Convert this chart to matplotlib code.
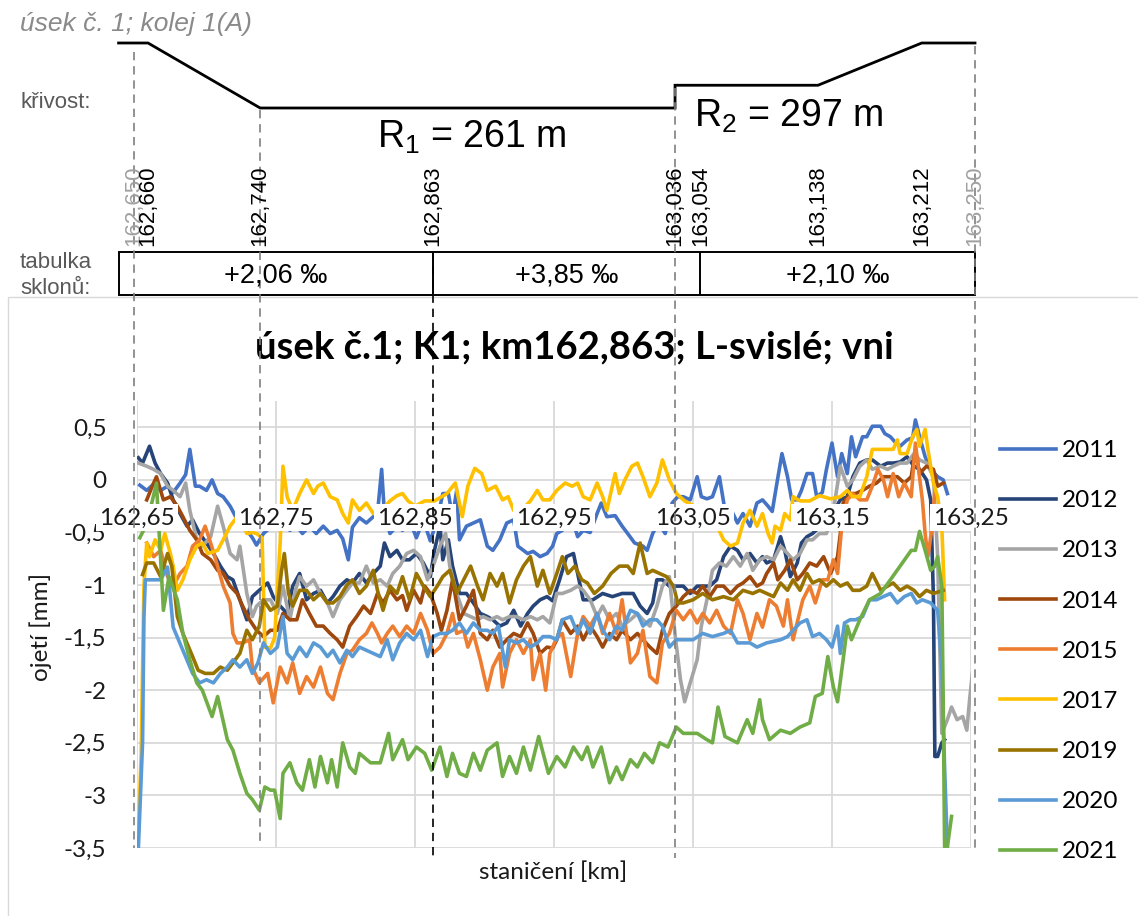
import matplotlib
matplotlib.use("Agg")
import matplotlib.pyplot as plt
from matplotlib.patches import Rectangle

# ---------------------------------------------------------------------------
# Measured vertical track deflection (ojetí) along the section, (km, mm)
# ---------------------------------------------------------------------------
ojeti_2011 = [
    (162.652, -0.05), (162.657, -0.10), (162.662, -0.04), (162.667, -0.10), (162.672, -0.06),
    (162.676, -0.12), (162.681, -0.03), (162.685, 0.05), (162.688, 0.29), (162.692, -0.06),
    (162.695, -0.06), (162.700, -0.10), (162.704, 0.00), (162.708, -0.13), (162.712, -0.16),
    (162.717, -0.25), (162.721, -0.35), (162.724, -0.45), (162.729, -0.48), (162.733, -0.55),
    (162.736, -0.62), (162.741, -0.51), (162.746, -0.45), (162.751, -0.40), (162.755, -0.41),
    (162.760, -0.48), (162.765, -0.44), (162.769, -0.51), (162.774, -0.44), (162.779, -0.51),
    (162.784, -0.44), (162.789, -0.51), (162.794, -0.48), (162.798, -0.56), (162.802, -0.76),
    (162.805, -0.45), (162.810, -0.36), (162.815, -0.41), (162.820, -0.35), (162.823, -0.32),
    (162.826, 0.10), (162.828, -0.32), (162.832, -0.51), (162.837, -0.44), (162.841, -0.48),
    (162.846, -0.38), (162.851, -0.55), (162.856, -0.38), (162.861, -0.58), (162.866, -0.38),
    (162.870, -0.13), (162.874, -0.13), (162.877, -0.35), (162.880, -0.10), (162.882, -0.57),
    (162.887, -0.44), (162.892, -0.41), (162.897, -0.38), (162.902, -0.63), (162.906, -0.67),
    (162.911, -0.57), (162.916, -0.41), (162.921, -0.38), (162.924, -0.63), (162.931, -0.70),
    (162.935, -0.68), (162.940, -0.73), (162.945, -0.70), (162.949, -0.63), (162.952, -0.51),
    (162.956, -0.48), (162.962, -0.32), (162.967, -0.54), (162.971, -0.48), (162.976, -0.50),
    (162.981, -0.32), (162.984, -0.22), (162.988, -0.35), (162.994, -0.34), (162.999, -0.44),
    (163.003, -0.51), (163.008, -0.60), (163.014, -0.63), (163.017, -0.67), (163.021, -0.51),
    (163.025, -0.41), (163.030, -0.51), (163.035, -0.22), (163.039, -0.16), (163.043, -0.16),
    (163.048, -0.19), (163.053, 0.03), (163.056, -0.16), (163.060, -0.18), (163.064, -0.16),
    (163.069, 0.03), (163.073, -0.29), (163.078, -0.30), (163.082, -0.41), (163.086, -0.32),
    (163.091, -0.44), (163.096, -0.22), (163.100, -0.19), (163.104, -0.25), (163.107, -0.30),
    (163.110, -0.06), (163.114, 0.25), (163.118, 0.03), (163.121, -0.19), (163.125, -0.19),
    (163.128, -0.10), (163.132, 0.06), (163.136, 0.06), (163.139, -0.16), (163.143, -0.12),
    (163.146, 0.10), (163.150, 0.35), (163.154, 0.03), (163.157, 0.25), (163.161, 0.06),
    (163.164, 0.41), (163.167, 0.22), (163.172, 0.41), (163.175, 0.41), (163.179, 0.51),
    (163.185, 0.51), (163.188, 0.44), (163.192, 0.41), (163.196, 0.35), (163.199, 0.32),
    (163.204, 0.38), (163.208, 0.40), (163.210, 0.57), (163.213, 0.41), (163.217, 0.22),
    (163.221, 0.10), (163.226, 0.03), (163.230, 0.00), (163.233, -0.13),
]

ojeti_2012 = [
    (162.651, 0.21), (162.654, 0.16), (162.659, 0.32), (162.663, 0.16), (162.667, 0.06),
    (162.672, -0.03), (162.676, -0.19), (162.681, -0.32), (162.686, -0.44), (162.690, -0.38),
    (162.695, -0.51), (162.700, -0.60), (162.705, -0.70), (162.710, -0.82), (162.715, -0.92),
    (162.719, -0.95), (162.724, -1.14), (162.729, -1.33), (162.733, -1.11), (162.738, -1.05),
    (162.744, -0.98), (162.748, -1.11), (162.753, -1.20), (162.758, -1.27), (162.762, -1.01),
    (162.767, -0.89), (162.772, -1.14), (162.777, -1.08), (162.782, -1.05), (162.787, -1.17),
    (162.791, -1.11), (162.796, -1.01), (162.801, -0.95), (162.805, -0.98), (162.810, -0.89),
    (162.815, -0.98), (162.820, -0.89), (162.825, -0.82), (162.828, -0.60), (162.832, -0.73),
    (162.837, -0.67), (162.841, -0.76), (162.846, -0.76), (162.851, -0.70), (162.856, -0.79),
    (162.861, -0.92), (162.864, -0.67), (162.868, -0.44), (162.870, -0.76), (162.874, -0.57),
    (162.877, -0.82), (162.882, -1.08), (162.887, -1.08), (162.892, -1.17), (162.897, -1.27),
    (162.902, -1.30), (162.906, -1.33), (162.911, -1.39), (162.916, -1.36), (162.921, -1.24),
    (162.926, -1.39), (162.931, -1.27), (162.935, -1.20), (162.940, -1.14), (162.945, -1.11),
    (162.949, -1.15), (162.954, -0.95), (162.959, -0.73), (162.964, -0.70), (162.967, -0.89),
    (162.971, -1.14), (162.978, -1.14), (162.985, -1.08), (162.992, -1.11), (162.999, -1.08),
    (163.007, -1.08), (163.012, -1.20), (163.017, -1.27), (163.021, -1.17), (163.024, -0.95),
    (163.028, -0.95), (163.033, -1.01), (163.038, -1.01), (163.043, -1.01), (163.048, -1.08),
    (163.053, -1.01), (163.057, -1.01), (163.062, -1.01), (163.067, -0.95), (163.072, -0.73),
    (163.077, -0.63), (163.082, -0.67), (163.086, -0.76), (163.091, -0.70), (163.096, -0.79),
    (163.100, -0.73), (163.103, -0.79), (163.108, -0.76), (163.113, -0.54), (163.116, -0.67),
    (163.120, -0.92), (163.125, -0.79), (163.128, -0.60), (163.132, -0.54), (163.136, -0.51),
    (163.141, -0.45), (163.146, -0.40), (163.151, -0.30), (163.156, -0.19), (163.161, -0.16),
    (163.165, 0.03), (163.170, 0.16), (163.175, 0.19), (163.179, 0.19), (163.185, 0.13),
    (163.190, 0.16), (163.194, 0.16), (163.199, 0.17), (163.204, 0.22), (163.209, 0.13),
    (163.213, 0.10), (163.218, 0.00), (163.221, -0.19), (163.223, -1.14), (163.224, -2.63),
    (163.226, -2.63), (163.229, -2.50), (163.231, -2.47),
]

ojeti_2013 = [
    (162.651, 0.16), (162.657, 0.13), (162.662, 0.10), (162.667, 0.06), (162.672, -0.06),
    (162.676, -0.10), (162.681, -0.16), (162.685, -0.03), (162.688, -0.29), (162.693, -0.57),
    (162.697, -0.63), (162.703, -0.54), (162.708, -0.25), (162.712, -0.44), (162.717, -0.70),
    (162.722, -0.76), (162.724, -0.63), (162.729, -1.08), (162.733, -1.30), (162.736, -1.20),
    (162.741, -1.14), (162.746, -1.14), (162.751, -1.27), (162.755, -1.01), (162.760, -1.33),
    (162.764, -1.05), (162.767, -0.92), (162.772, -1.01), (162.777, -0.95), (162.782, -1.08),
    (162.787, -1.17), (162.791, -1.30), (162.796, -1.14), (162.801, -1.05), (162.805, -0.98),
    (162.810, -0.98), (162.815, -0.82), (162.820, -0.98), (162.825, -0.95), (162.830, -1.01),
    (162.834, -0.89), (162.839, -0.82), (162.844, -0.70), (162.849, -0.67), (162.854, -0.73),
    (162.859, -0.95), (162.863, -0.82), (162.868, -0.63), (162.872, -0.51), (162.875, -0.82),
    (162.880, -1.08), (162.885, -1.27), (162.890, -1.30), (162.895, -1.33), (162.899, -1.30),
    (162.904, -1.33), (162.909, -1.30), (162.913, -1.33), (162.918, -1.30), (162.923, -1.30),
    (162.928, -1.33), (162.933, -1.30), (162.938, -1.33), (162.942, -1.30), (162.947, -1.36),
    (162.952, -1.08), (162.956, -1.08), (162.962, -1.05), (162.967, -1.01), (162.971, -1.05),
    (162.976, -1.14), (162.981, -1.30), (162.985, -1.20), (162.990, -1.33), (162.995, -1.27),
    (162.999, -1.39), (163.005, -1.33), (163.010, -1.27), (163.014, -1.33), (163.019, -1.39),
    (163.024, -1.20), (163.028, -1.01), (163.033, -0.92), (163.037, -1.46), (163.041, -1.90),
    (163.044, -2.11), (163.048, -1.93), (163.053, -1.71), (163.056, -1.39), (163.060, -1.14),
    (163.064, -0.86), (163.069, -0.79), (163.074, -0.82), (163.079, -0.73), (163.084, -0.82),
    (163.089, -0.70), (163.093, -0.86), (163.098, -0.76), (163.103, -0.73), (163.108, -0.76),
    (163.113, -0.63), (163.118, -0.70), (163.122, -0.76), (163.127, -0.70), (163.132, -0.57),
    (163.136, -0.57), (163.141, -0.51), (163.146, -0.51), (163.151, -0.29), (163.156, 0.13),
    (163.161, -0.06), (163.165, 0.00), (163.170, 0.13), (163.175, 0.19), (163.179, 0.10),
    (163.185, 0.13), (163.190, 0.10), (163.194, 0.13), (163.199, 0.16), (163.204, 0.16),
    (163.209, 0.25), (163.213, 0.19), (163.218, 0.16), (163.223, 0.03), (163.226, -0.73),
    (163.229, -2.41), (163.233, -2.28), (163.236, -2.16), (163.240, -2.28), (163.244, -2.25),
    (163.247, -2.38), (163.249, -2.09), (163.251, -1.84),
]

ojeti_2014 = [
    (162.657, -0.19), (162.661, -0.06), (162.664, 0.03), (162.669, -0.19), (162.674, -0.16),
    (162.679, -0.25), (162.683, -0.35), (162.688, -0.48), (162.693, -0.57), (162.697, -0.70),
    (162.703, -0.76), (162.708, -0.86), (162.712, -0.89), (162.717, -1.01), (162.722, -1.08),
    (162.726, -1.20), (162.731, -1.33), (162.736, -1.43), (162.741, -1.49), (162.746, -1.43),
    (162.751, -1.43), (162.755, -1.27), (162.760, -1.33), (162.765, -1.33), (162.769, -1.14),
    (162.774, -1.27), (162.779, -1.39), (162.784, -1.39), (162.789, -1.46), (162.794, -1.52),
    (162.798, -1.59), (162.803, -1.39), (162.808, -1.30), (162.813, -1.20), (162.818, -1.27),
    (162.823, -1.08), (162.827, -1.17), (162.832, -1.05), (162.837, -1.14), (162.841, -1.10),
    (162.844, -1.24), (162.849, -1.05), (162.854, -1.17), (162.857, -1.01), (162.861, -1.08),
    (162.866, -1.27), (162.869, -1.43), (162.873, -1.24), (162.877, -0.95), (162.882, -1.33),
    (162.887, -1.20), (162.892, -1.05), (162.897, -1.46), (162.902, -1.52), (162.906, -1.43),
    (162.911, -1.59), (162.916, -1.52), (162.921, -1.46), (162.926, -1.49), (162.931, -1.36),
    (162.935, -1.46), (162.940, -1.65), (162.945, -1.59), (162.949, -1.60), (162.952, -1.52),
    (162.956, -1.33), (162.962, -1.46), (162.967, -1.39), (162.971, -1.52), (162.976, -1.39),
    (162.981, -1.49), (162.985, -1.59), (162.990, -1.46), (162.995, -1.52), (162.999, -1.43),
    (163.005, -1.52), (163.010, -1.46), (163.014, -1.52), (163.019, -1.59), (163.024, -1.65),
    (163.028, -1.43), (163.033, -1.27), (163.038, -1.20), (163.043, -1.11), (163.048, -1.05),
    (163.053, -1.08), (163.057, -1.01), (163.062, -1.11), (163.067, -1.01), (163.072, -1.01),
    (163.077, -1.08), (163.082, -1.01), (163.086, -0.98), (163.091, -0.92), (163.096, -1.01),
    (163.100, -0.98), (163.103, -0.89), (163.108, -0.79), (163.111, -0.95), (163.116, -0.86),
    (163.120, -0.76), (163.125, -0.95), (163.129, -0.89), (163.134, -0.79), (163.139, -0.82),
    (163.144, -0.73), (163.149, -0.89), (163.154, -0.73), (163.156, -0.51), (163.158, -0.22),
    (163.163, -0.13), (163.167, -0.13), (163.172, -0.10), (163.177, -0.06), (163.182, -0.03),
    (163.187, 0.03), (163.192, 0.03), (163.197, 0.03), (163.202, -0.03), (163.207, 0.03),
    (163.210, 0.29), (163.213, 0.06), (163.218, 0.13), (163.223, 0.10), (163.226, -0.06),
    (163.230, -0.03),
]

ojeti_2015 = [
    (162.657, -0.60), (162.662, -0.73), (162.667, -0.67), (162.672, -0.92), (162.676, -1.01),
    (162.681, -0.89), (162.686, -0.82), (162.690, -0.63), (162.695, -0.57), (162.699, -0.44),
    (162.703, -0.60), (162.708, -0.82), (162.712, -1.01), (162.717, -1.17), (162.719, -1.46),
    (162.722, -1.55), (162.726, -1.55), (162.731, -1.52), (162.733, -1.78), (162.738, -1.93),
    (162.744, -1.84), (162.748, -2.12), (162.753, -1.78), (162.758, -1.93), (162.762, -1.74),
    (162.767, -2.03), (162.772, -1.87), (162.777, -1.97), (162.782, -1.78), (162.787, -2.03),
    (162.791, -2.09), (162.796, -1.84), (162.801, -1.65), (162.805, -1.62), (162.810, -1.52),
    (162.815, -1.46), (162.819, -1.36), (162.823, -1.46), (162.826, -1.55), (162.830, -1.46),
    (162.834, -1.39), (162.839, -1.49), (162.844, -1.39), (162.849, -1.46), (162.854, -1.27),
    (162.859, -1.43), (162.863, -1.65), (162.868, -1.59), (162.873, -1.46), (162.877, -1.27),
    (162.880, -1.46), (162.885, -1.43), (162.888, -1.59), (162.892, -1.46), (162.897, -1.71),
    (162.902, -2.00), (162.906, -1.78), (162.911, -1.65), (162.913, -1.97), (162.918, -1.65),
    (162.923, -1.52), (162.928, -1.65), (162.933, -1.52), (162.935, -1.90), (162.940, -1.65),
    (162.944, -2.00), (162.947, -1.65), (162.952, -1.50), (162.956, -1.46), (162.962, -1.87),
    (162.967, -1.46), (162.971, -1.30), (162.976, -1.39), (162.981, -1.27), (162.985, -1.46),
    (162.990, -1.27), (162.995, -1.46), (162.999, -1.14), (163.005, -1.74), (163.010, -1.65),
    (163.014, -1.43), (163.019, -1.87), (163.024, -1.93), (163.028, -1.55), (163.033, -1.46),
    (163.038, -1.24), (163.043, -1.33), (163.048, -1.24), (163.053, -1.36), (163.057, -1.27),
    (163.062, -1.36), (163.067, -1.24), (163.072, -1.39), (163.077, -1.46), (163.082, -1.14),
    (163.086, -1.27), (163.091, -1.52), (163.096, -1.27), (163.100, -1.40), (163.105, -1.14),
    (163.110, -1.20), (163.115, -1.39), (163.118, -1.14), (163.122, -1.52), (163.126, -1.30),
    (163.129, -1.14), (163.134, -1.01), (163.138, -1.17), (163.143, -0.95), (163.147, -0.95),
    (163.151, -0.76), (163.154, -0.89), (163.157, -0.44), (163.161, -0.19), (163.165, -0.13),
    (163.170, -0.19), (163.175, -0.19), (163.179, -0.06), (163.183, 0.10), (163.187, 0.00),
    (163.190, -0.16), (163.194, 0.06), (163.198, -0.16), (163.202, -0.03), (163.207, -0.16),
    (163.210, 0.35), (163.212, 0.13), (163.215, -0.19), (163.217, -0.51), (163.219, -0.73),
    (163.222, -0.45), (163.224, -0.10),
]

ojeti_2017 = [
    (162.651, -3.35), (162.653, -2.60), (162.655, -1.00), (162.657, -0.60), (162.659, -0.73),
    (162.663, -0.57), (162.667, -0.67), (162.670, -0.51), (162.674, -0.70), (162.676, -0.82),
    (162.679, -1.05), (162.683, -0.95), (162.688, -0.76), (162.693, -0.63), (162.697, -0.60),
    (162.701, -0.70), (162.708, -0.67), (162.712, -0.57), (162.717, -0.44), (162.722, -0.35),
    (162.726, -0.40), (162.729, -0.51), (162.733, -0.50), (162.736, -0.51), (162.740, -0.55),
    (162.742, -1.59), (162.746, -1.60), (162.749, -1.50), (162.753, -0.60), (162.755, 0.13),
    (162.758, -0.16), (162.762, -0.29), (162.767, -0.13), (162.772, 0.00), (162.777, -0.13),
    (162.780, -0.06), (162.784, -0.03), (162.789, -0.16), (162.794, -0.19), (162.798, -0.32),
    (162.802, -0.41), (162.805, -0.19), (162.810, -0.29), (162.815, -0.22), (162.820, -0.32),
    (162.825, -0.30), (162.832, -0.20), (162.837, -0.15), (162.841, -0.13), (162.845, -0.20),
    (162.850, -0.25), (162.857, -0.20), (162.864, -0.20), (162.873, -0.13), (162.879, -0.03),
    (162.884, -0.35), (162.888, -0.06), (162.893, 0.11), (162.898, 0.06), (162.902, -0.10),
    (162.908, -0.06), (162.913, -0.19), (162.917, -0.16), (162.921, -0.29), (162.926, -0.30),
    (162.933, -0.20), (162.938, -0.10), (162.942, -0.19), (162.947, -0.19), (162.952, -0.10),
    (162.958, -0.03), (162.963, -0.06), (162.967, -0.03), (162.971, -0.16), (162.976, -0.19),
    (162.981, -0.03), (162.985, -0.16), (162.988, -0.29), (162.994, 0.06), (162.997, -0.13),
    (163.001, 0.00), (163.006, 0.13), (163.010, 0.16), (163.014, 0.03), (163.019, -0.16),
    (163.024, -0.03), (163.028, 0.19), (163.033, 0.00), (163.038, -0.13), (163.044, -0.20),
    (163.051, -0.25), (163.059, -0.30), (163.066, -0.40), (163.072, -0.57), (163.077, -0.63),
    (163.082, -0.60), (163.086, -0.41), (163.091, -0.29), (163.096, -0.44), (163.100, -0.32),
    (163.104, -0.51), (163.107, -0.60), (163.109, -0.44), (163.113, -0.48), (163.116, -0.32),
    (163.120, -0.38), (163.122, -0.16), (163.127, -0.20), (163.134, -0.20), (163.141, -0.15),
    (163.149, -0.18), (163.156, -0.16), (163.161, -0.10), (163.165, -0.16), (163.170, -0.16),
    (163.175, 0.03), (163.179, 0.29), (163.185, 0.29), (163.190, 0.29), (163.194, 0.29),
    (163.197, 0.38), (163.199, 0.25), (163.204, 0.25), (163.208, 0.41), (163.211, 0.48),
    (163.213, 0.32), (163.217, 0.48), (163.219, 0.29), (163.223, -0.03), (163.226, -0.16),
    (163.229, -0.44), (163.231, -1.14),
]

ojeti_2019 = [
    (162.654, -0.90), (162.657, -0.79), (162.662, -0.79), (162.667, -0.92), (162.672, -0.70),
    (162.675, -0.82), (162.679, -1.30), (162.683, -1.46), (162.690, -1.68), (162.694, -1.81),
    (162.699, -1.84), (162.705, -1.84), (162.710, -1.78), (162.715, -1.81), (162.719, -1.74),
    (162.724, -1.65), (162.729, -1.43), (162.733, -1.52), (162.738, -1.39), (162.741, -1.14),
    (162.746, -1.24), (162.751, -1.20), (162.754, -0.86), (162.756, -0.70), (162.759, -1.08),
    (162.762, -1.20), (162.767, -1.05), (162.772, -1.05), (162.777, -1.14), (162.782, -1.08),
    (162.787, -1.17), (162.791, -1.17), (162.796, -1.11), (162.801, -1.00), (162.805, -0.95),
    (162.810, -1.08), (162.815, -1.01), (162.820, -0.86), (162.823, -1.05), (162.827, -1.24),
    (162.832, -1.01), (162.837, -1.08), (162.841, -0.92), (162.846, -1.14), (162.851, -0.89),
    (162.856, -1.01), (162.861, -1.11), (162.866, -1.01), (162.870, -0.92), (162.875, -0.86),
    (162.880, -1.08), (162.885, -0.95), (162.890, -0.82), (162.895, -1.01), (162.899, -1.14),
    (162.904, -0.89), (162.909, -1.01), (162.913, -0.89), (162.918, -1.17), (162.923, -0.95),
    (162.928, -0.82), (162.933, -0.73), (162.938, -1.01), (162.942, -0.86), (162.947, -1.08),
    (162.952, -0.89), (162.956, -0.73), (162.960, -0.89), (162.965, -0.82), (162.970, -0.95),
    (162.974, -0.98), (162.979, -1.08), (162.985, -1.01), (162.991, -0.89), (162.997, -0.82),
    (163.003, -0.82), (163.007, -0.89), (163.012, -0.60), (163.017, -0.89), (163.021, -0.86),
    (163.026, -0.89), (163.031, -0.92), (163.036, -1.01), (163.039, -1.17), (163.043, -1.17),
    (163.050, -1.14), (163.057, -1.08), (163.064, -1.14), (163.072, -1.11), (163.079, -1.14),
    (163.086, -1.05), (163.093, -1.08), (163.098, -1.05), (163.103, -1.08), (163.108, -1.11),
    (163.113, -0.98), (163.118, -1.05), (163.122, -0.95), (163.127, -1.05), (163.132, -0.89),
    (163.136, -0.98), (163.141, -0.95), (163.146, -1.01), (163.151, -0.95), (163.156, -1.01),
    (163.161, -0.98), (163.165, -1.05), (163.170, -1.05), (163.175, -1.01), (163.179, -0.89),
    (163.185, -1.05), (163.190, -1.01), (163.194, -0.98), (163.199, -1.05), (163.204, -1.01),
    (163.209, -1.05), (163.213, -1.11), (163.218, -1.05), (163.223, -1.08), (163.230, -1.05),
]

ojeti_2020 = [
    (162.651, -3.50), (162.654, -2.50), (162.655, -1.30), (162.656, -0.95), (162.662, -0.95),
    (162.667, -0.95), (162.672, -0.83), (162.676, -1.40), (162.683, -1.62), (162.690, -1.84),
    (162.695, -1.93), (162.700, -1.90), (162.705, -1.93), (162.710, -1.84), (162.715, -1.78),
    (162.719, -1.71), (162.724, -1.78), (162.729, -1.71), (162.733, -1.84), (162.737, -1.74),
    (162.741, -1.55), (162.746, -1.65), (162.751, -1.59), (162.755, -1.30), (162.758, -1.65),
    (162.762, -1.71), (162.767, -1.59), (162.772, -1.68), (162.777, -1.55), (162.782, -1.59),
    (162.787, -1.68), (162.791, -1.62), (162.796, -1.74), (162.801, -1.62), (162.805, -1.68),
    (162.810, -1.59), (162.815, -1.62), (162.820, -1.65), (162.825, -1.68), (162.830, -1.52),
    (162.834, -1.71), (162.839, -1.55), (162.844, -1.46), (162.849, -1.52), (162.854, -1.43),
    (162.859, -1.68), (162.863, -1.49), (162.868, -1.46), (162.873, -1.46), (162.877, -1.43),
    (162.882, -1.36), (162.887, -1.46), (162.892, -1.36), (162.897, -1.43), (162.902, -1.43),
    (162.906, -1.46), (162.910, -1.39), (162.915, -1.78), (162.918, -1.52), (162.923, -1.55),
    (162.928, -1.52), (162.933, -1.59), (162.938, -1.55), (162.942, -1.49), (162.947, -1.49),
    (162.952, -1.52), (162.956, -1.33), (162.962, -1.30), (162.967, -1.46), (162.971, -1.33),
    (162.976, -1.46), (162.981, -1.27), (162.985, -1.43), (162.990, -1.52), (162.995, -1.39),
    (162.999, -1.43), (163.005, -1.24), (163.010, -1.27), (163.014, -1.39), (163.019, -1.33),
    (163.024, -1.33), (163.028, -1.39), (163.033, -1.59), (163.038, -1.52), (163.043, -1.52),
    (163.050, -1.52), (163.057, -1.46), (163.064, -1.49), (163.072, -1.46), (163.077, -1.43),
    (163.082, -1.55), (163.091, -1.55), (163.096, -1.59), (163.103, -1.55), (163.113, -1.52),
    (163.118, -1.49), (163.122, -1.43), (163.127, -1.36), (163.132, -1.33), (163.136, -1.49),
    (163.141, -1.46), (163.146, -1.52), (163.150, -1.59), (163.154, -1.39), (163.156, -1.65),
    (163.159, -1.36), (163.163, -1.33), (163.167, -1.33), (163.172, -1.30), (163.177, -1.14),
    (163.182, -1.14), (163.187, -1.11), (163.192, -1.08), (163.197, -1.17), (163.202, -1.11),
    (163.207, -1.08), (163.211, -1.17), (163.215, -1.14), (163.221, -1.17), (163.226, -1.24),
    (163.229, -1.78), (163.231, -2.73), (163.233, -3.49),
]

ojeti_2021 = [
    (162.652, -0.55), (162.657, -0.42), (162.661, -0.20), (162.664, -0.03), (162.669, -1.24),
    (162.673, -0.92), (162.679, -1.14), (162.683, -1.46), (162.688, -1.71), (162.693, -1.93),
    (162.697, -2.00), (162.704, -2.25), (162.708, -2.06), (162.715, -2.47), (162.719, -2.57),
    (162.724, -2.79), (162.729, -2.98), (162.733, -3.04), (162.738, -3.14), (162.742, -2.92),
    (162.746, -2.95), (162.749, -2.95), (162.753, -3.22), (162.755, -2.79), (162.760, -2.69),
    (162.765, -2.88), (162.769, -2.95), (162.774, -2.66), (162.778, -2.92), (162.782, -2.63),
    (162.787, -2.88), (162.790, -2.66), (162.794, -2.92), (162.798, -2.50), (162.803, -2.73),
    (162.807, -2.79), (162.810, -2.60), (162.818, -2.69), (162.825, -2.69), (162.831, -2.41),
    (162.834, -2.66), (162.841, -2.47), (162.845, -2.66), (162.851, -2.54), (162.857, -2.60),
    (162.862, -2.76), (162.868, -2.54), (162.873, -2.82), (162.877, -2.60), (162.882, -2.79),
    (162.887, -2.82), (162.892, -2.60), (162.897, -2.76), (162.902, -2.57), (162.909, -2.50),
    (162.913, -2.82), (162.918, -2.63), (162.923, -2.79), (162.928, -2.54), (162.933, -2.76),
    (162.939, -2.44), (162.946, -2.79), (162.952, -2.63), (162.958, -2.73), (162.964, -2.54),
    (162.970, -2.66), (162.974, -2.54), (162.978, -2.73), (162.984, -2.54), (162.990, -2.88),
    (162.995, -2.73), (162.999, -2.85), (163.005, -2.66), (163.010, -2.73), (163.015, -2.60),
    (163.021, -2.69), (163.026, -2.50), (163.032, -2.54), (163.038, -2.35), (163.043, -2.41),
    (163.053, -2.41), (163.060, -2.47), (163.064, -2.50), (163.068, -2.16), (163.073, -2.44),
    (163.082, -2.50), (163.089, -2.28), (163.093, -2.41), (163.098, -2.09), (163.100, -2.28),
    (163.105, -2.47), (163.113, -2.38), (163.120, -2.41), (163.127, -2.35), (163.134, -2.31),
    (163.138, -2.06), (163.143, -2.03), (163.147, -1.68), (163.151, -1.97), (163.154, -2.11),
    (163.158, -1.71), (163.161, -1.39), (163.164, -1.52), (163.170, -1.33), (163.177, -1.14),
    (163.185, -1.08), (163.192, -0.95), (163.199, -0.82), (163.207, -0.67), (163.210, -0.67),
    (163.213, -0.49), (163.217, -0.67), (163.221, -0.86), (163.224, -0.82), (163.226, -0.73),
    (163.229, -1.01), (163.230, -2.09), (163.231, -3.49), (163.233, -3.49), (163.236, -3.20),
]

years = ["2011", "2012", "2013", "2014", "2015", "2017", "2019", "2020", "2021"]
profiles = [ojeti_2011, ojeti_2012, ojeti_2013, ojeti_2014, ojeti_2015,
            ojeti_2017, ojeti_2019, ojeti_2020, ojeti_2021]
series_colors = ["#4472C4", "#264478", "#A5A5A5", "#9E480E", "#ED7D31",
                 "#FFC000", "#997300", "#5B9BD5", "#70AD47"]

x_ticks = [162.65, 162.75, 162.85, 162.95, 163.05, 163.15, 163.25]
x_tick_labels = ["162,65", "162,75", "162,85", "162,95", "163,05", "163,15", "163,25"]
y_ticks = [0.5, 0.0, -0.5, -1.0, -1.5, -2.0, -2.5, -3.0, -3.5]
y_tick_labels = ["0,5", "0", "-0,5", "-1", "-1,5", "-2", "-2,5", "-3", "-3,5"]

# ---------------------------------------------------------------------------
# Track geometry header: curvature diagram, stationing, gradient table
# ---------------------------------------------------------------------------
curve_km = [162.639, 162.660, 162.740, 163.036, 163.036, 163.138, 163.212, 163.250]
curve_level = [0.0, 0.0, -1.0, -1.0, -0.65, -0.65, 0.0, 0.0]
station_km = [162.650, 162.660, 162.740, 162.863, 163.036, 163.054, 163.138, 163.212, 163.250]
station_labels = ["162,650", "162,660", "162,740", "162,863", "163,036",
                  "163,054", "163,138", "163,212", "163,250"]
slope_edges = [162.639, 162.863, 163.054, 163.250]
slope_labels = ["+2,06 \u2030", "+3,85 \u2030", "+2,10 \u2030"]
guide_km = [162.650, 162.740, 162.863, 163.036, 163.250]

# ---------------------------------------------------------------------------
W, H = 1138, 916
plt.rcParams["mathtext.fontset"] = "custom"
plt.rcParams["mathtext.rm"] = "Liberation Sans"
CHART_FONT = ["Lato", "DejaVu Sans"]
HEAD_FONT = ["Liberation Sans", "DejaVu Sans"]
INK = "#1a1a1a"

fig = plt.figure(figsize=(W / 100, H / 100), dpi=100)
fig.patch.set_facecolor("white")


def frame(left, top, right, bottom):
    return [left / W, 1 - bottom / H, (right - left) / W, (bottom - top) / H]


# outline of the chart area
fig.add_artist(Rectangle((8 / W, -0.01), 1.05, 1 - 297 / H + 0.01,
                         transform=fig.transFigure, fill=False,
                         ec="#D9D9D9", lw=1.0))

# ---------------- deflection chart ----------------
ax = fig.add_axes(frame(137, 401, 971, 848))
ax.set_facecolor("none")
for year, color, prof in zip(years, series_colors, profiles):
    km = [p[0] for p in prof]
    mm = [p[1] for p in prof]
    ax.plot(km, mm, color=color, lw=2.6, label=year, solid_joinstyle="round")

ax.set_xlim(162.65, 163.25)
ax.set_ylim(-3.5, 0.75)
ax.set_xticks(x_ticks)
ax.set_yticks(y_ticks, y_tick_labels)
ax.tick_params(axis="x", length=0, labelbottom=False)
ax.tick_params(axis="y", length=0, pad=22, labelsize=17.5, labelcolor=INK)
for lab in ax.get_yticklabels():
    lab.set_fontfamily(CHART_FONT)
ax.grid(True, color="#D9D9D9", lw=1.3)
ax.set_axisbelow(True)
for s in ax.spines.values():
    s.set_visible(False)

# category labels sit on the zero line, boxed in white
for k, lab in zip(x_ticks, x_tick_labels):
    ax.annotate(lab, xy=(k, 0), xytext=(0, -38), textcoords="offset pixels",
                ha="center", va="center", fontsize=17.5, family=CHART_FONT,
                color=INK, zorder=20, annotation_clip=False,
                bbox=dict(boxstyle="square,pad=0.12", fc="white", ec="none"))

ax.text(-0.116, 0.494, "ojetí [mm]", transform=ax.transAxes, rotation=90,
        ha="center", va="center", fontsize=17.5, family=CHART_FONT, color=INK)
ax.text(0.499, -0.054, "staničení [km]", transform=ax.transAxes,
        ha="center", va="center", fontsize=17.5, family=CHART_FONT, color=INK)

fig.text(574 / W, 1 - 347 / H, "úsek č.1; K1; km162,863; L-svislé; vni",
         ha="center", va="center", fontsize=27.5, fontweight="bold",
         family=CHART_FONT, color="black")

ax.legend(loc="upper left", bbox_to_anchor=(1000 / W, 1 - 440 / H),
          bbox_transform=fig.transFigure, frameon=False,
          prop={"family": CHART_FONT, "size": 17.5},
          handlelength=2.3, handletextpad=0.25, labelspacing=1.2,
          borderaxespad=0, borderpad=0)

# ---------------- header schematic ----------------
sch = fig.add_axes(frame(134, 0, 975, 916), zorder=10)
sch.set_xlim(162.65, 163.25)
sch.set_ylim(916, 0)
sch.axis("off")

guide_top = [52, 110, 252, 88, 46]
guide_bottom = [848, 845, 858, 858, 848]
guide_color = ["#7f7f7f", "#7f7f7f", "black", "#7f7f7f", "#7f7f7f"]
for k, y0, y1, c in zip(guide_km, guide_top, guide_bottom, guide_color):
    sch.plot([k, k], [y0, y1], color=c, lw=1.2, ls=(0, (5, 3.5)), clip_on=False)

for k, lab in zip(station_km, station_labels):
    light = lab in ("162,650", "163,250")
    sch.text(k, 246, lab, rotation=90, ha="center", va="bottom", fontsize=16,
             family=HEAD_FONT, color="#a0a0a0" if light else "black")

sch.add_patch(Rectangle((slope_edges[0], 252), slope_edges[-1] - slope_edges[0], 43,
                        fill=False, ec="black", lw=1.4, clip_on=False))
sch.vlines(slope_edges[1:-1], 252, 295, colors="black", lw=1.4, clip_on=False)
for a, b, lab in zip(slope_edges[:-1], slope_edges[1:], slope_labels):
    sch.text((a + b) / 2, 275, lab, ha="center", va="center", fontsize=19.5,
             family=HEAD_FONT, color="black")

cur = fig.add_axes(frame(134, 43, 975, 108), zorder=9)
cur.set_xlim(162.65, 163.25)
cur.set_ylim(-1, 0)
cur.axis("off")
cur.plot(curve_km, curve_level, color="black", lw=2.0, clip_on=False,
         solid_joinstyle="miter")

fig.text(377 / W, 1 - 137 / H, r"$\mathrm{R}_\mathrm{1}$ = 261 m", ha="left", va="center",
         fontsize=27, family=HEAD_FONT, color="black")
fig.text(694 / W, 1 - 116 / H, r"$\mathrm{R}_\mathrm{2}$ = 297 m", ha="left", va="center",
         fontsize=27, family=HEAD_FONT, color="black")

fig.text(20 / W, 1 - 24 / H, "úsek č. 1; kolej 1(A)", ha="left", va="center",
         fontsize=19, style="italic", family=HEAD_FONT, color="#8a8a8a")
fig.text(20 / W, 1 - 102 / H, "křivost:", ha="left", va="center",
         fontsize=16, family=HEAD_FONT, color="#595959")
fig.text(20 / W, 1 - 262 / H, "tabulka", ha="left", va="center",
         fontsize=16, family=HEAD_FONT, color="#595959")
fig.text(20 / W, 1 - 288 / H, "sklonů:", ha="left", va="center",
         fontsize=16, family=HEAD_FONT, color="#595959")

fig.savefig("out.png", dpi=100, facecolor="white")
